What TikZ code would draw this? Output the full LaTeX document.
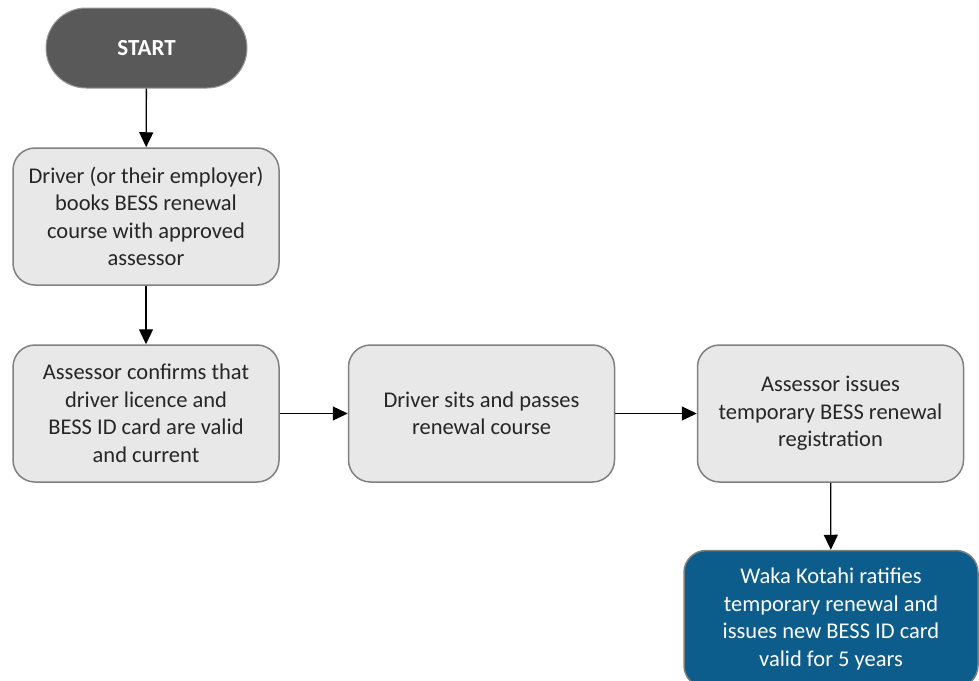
\documentclass[tikz,border=0pt]{standalone}
\usepackage{fontspec}
\setmainfont{Carlito}
\usetikzlibrary{arrows.meta}
\definecolor{boxfill}{RGB}{232,232,232}
\definecolor{boxline}{RGB}{128,128,128}
\definecolor{startfill}{RGB}{89,89,89}
\definecolor{bluefill}{RGB}{12,92,140}
\tikzset{
  stepbox/.style={draw=boxline, line width=1.5pt, fill=boxfill, rounded corners=22pt,
    minimum width=266pt, minimum height=137pt, align=center,
    inner sep=0pt, font=\fontsize{22.5}{27.5}\selectfont, text=black!85},
  startbox/.style={draw=boxline!80, line width=1pt, fill=startfill, rounded corners=40pt,
    minimum width=201pt, minimum height=80pt, align=center, text=white,
    font=\fontsize{23}{27}\selectfont\bfseries},
  endbox/.style={draw=boxline, line width=1.5pt, fill=bluefill, rounded corners=22pt,
    minimum width=294pt, minimum height=137pt, align=center,
    inner sep=0pt, font=\fontsize{22.5}{27.5}\selectfont, text=white},
  arr/.style={line width=1.3pt, -{Triangle[length=15pt,width=14pt]}}
}
\begin{document}
\begin{tikzpicture}[x=1pt,y=-1pt]
\useasboundingbox (0,0) rectangle (979,680);
\node[startbox] (start) at (146.5,48) {START};
\node[stepbox] (b1) at (146,216.5) {Driver (or their employer)\\books BESS renewal\\course with approved\\assessor};
\node[stepbox] (b2) at (146,413.5) {Assessor confirms that\\driver licence and\\BESS ID card are valid\\and current};
\node[stepbox] (b3) at (481.5,413.5) {Driver sits and passes\\renewal course};
\node[stepbox] (b4) at (830.5,413.5) {Assessor issues\\temporary BESS renewal\\registration};
\node[endbox] (b5) at (831,619) {Waka Kotahi ratifies\\temporary renewal and\\issues new BESS ID card\\valid for 5 years};
\draw[arr] (start) -- (b1);
\draw[arr] (b1) -- (b2);
\draw[arr] (b2) -- (b3);
\draw[arr] (b3) -- (b4);
\draw[arr] (b4) -- (b5);
\end{tikzpicture}
\end{document}
